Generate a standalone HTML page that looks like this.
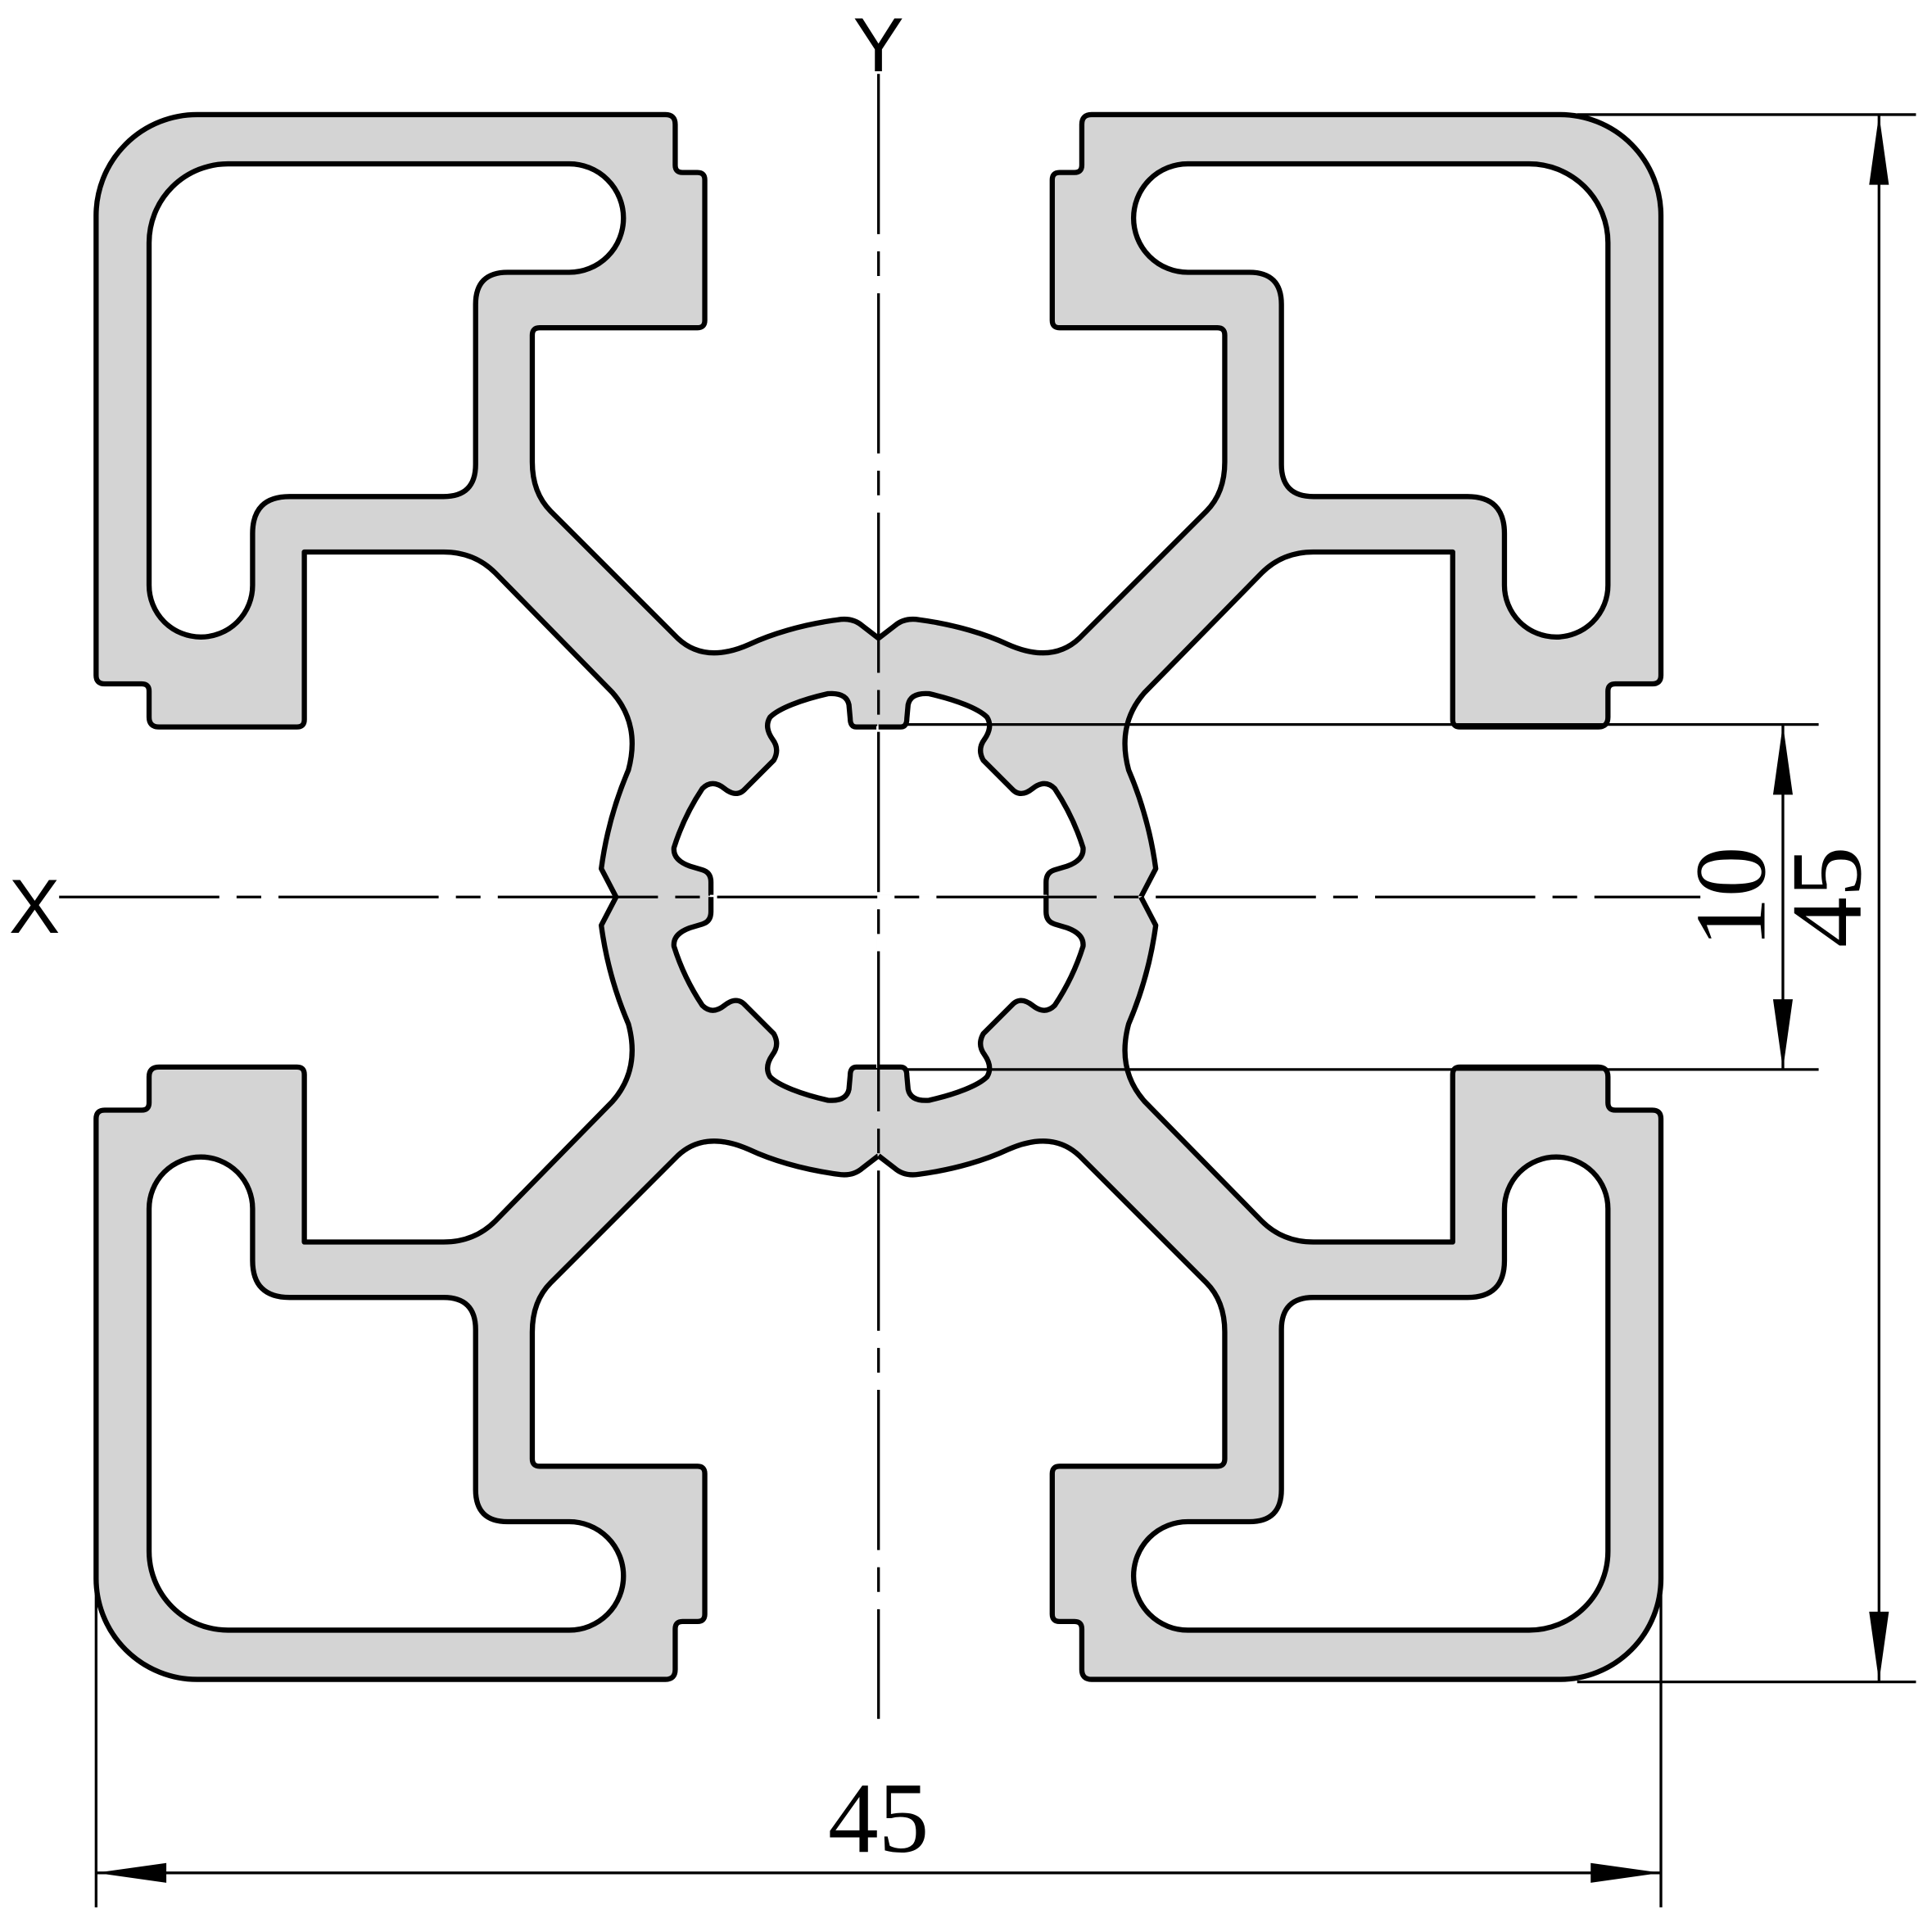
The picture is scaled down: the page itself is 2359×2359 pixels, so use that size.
<!DOCTYPE html>
<html><head><meta charset="utf-8"><style>
html,body{margin:0;padding:0;background:#fff;}
svg{display:block;}
</style></head><body>
<svg width="2359" height="2359" viewBox="0 0 1568 1568" xmlns="http://www.w3.org/2000/svg">
<defs>
<g id="q">
  <path d="M713,518 L700,508 Q692,501 680,503 C650,507 625,515 608,523 C590,531 568,535 550,518 L447,415 Q432,400 432,375 L432,272 Q432,266 438,266 L566,266 Q572,266 572,260 L572,146 Q572,140 566,140 L554,140 Q548,140 548,134 L548,101 Q548,93 540,93 L160,93 A82,82 0 0 0 78,175 L78,548 Q78,555 85,555 L115,555 Q121,555 121,561 L121,582 Q121,590 129,590 L241,590 Q247,590 247,584 L247,448 L360,448 Q385,448 402,465 L497,562 Q520,588 510,625 C495,660 490,690 488,705 L500,728 L714,729 Z" fill="#d4d4d4" stroke="#d4d4d4" stroke-width="1.5"/>
  <path d="M714,590 L695,590 Q690,590 690,583 L689,572 Q687,562 672,563 C650,568 632,575 625,582 Q620,590 627,600 Q633,608 628,617 L605,640 Q598,648 588,640 Q578,632 570,640 C560,655 552,672 547,688 Q546,698 560,703 L570,706 Q577,708 577,716 L577,729 L714,729 Z" fill="#fff" stroke="#fff" stroke-width="1.5"/>
  <path d="M185,133 L462,133 A44,44 0 0 1 462,221 L412,221 Q386,221 386,247 L386,377 Q386,403 360,403 L235,403 Q205,403 205,433 L205,475 A42,42 0 0 1 121,475 L121,197 A64,64 0 0 1 185,133 Z" fill="#fff" stroke="#000" stroke-width="4.2"/>
  <path d="M713,518 L700,508 Q692,501 680,503 C650,507 625,515 608,523 C590,531 568,535 550,518 L447,415 Q432,400 432,375 L432,272 Q432,266 438,266 L566,266 Q572,266 572,260 L572,146 Q572,140 566,140 L554,140 Q548,140 548,134 L548,101 Q548,93 540,93 L160,93 A82,82 0 0 0 78,175 L78,548 Q78,555 85,555 L115,555 Q121,555 121,561 L121,582 Q121,590 129,590 L241,590 Q247,590 247,584 L247,448 L360,448 Q385,448 402,465 L497,562 Q520,588 510,625 C495,660 490,690 488,705 L500,728" fill="none" stroke="#000" stroke-width="4.2" stroke-linejoin="round"/>
  <path d="M713,590 L695,590 Q690,590 690,583 L689,572 Q687,562 672,563 C650,568 632,575 625,582 Q620,590 627,600 Q633,608 628,617 L605,640 Q598,648 588,640 Q578,632 570,640 C560,655 552,672 547,688 Q546,698 560,703 L570,706 Q577,708 577,716 L577,728" fill="none" stroke="#000" stroke-width="4.2" stroke-linejoin="round"/>
</g>
</defs>
<use href="#q"/>
<use href="#q" transform="translate(1426,0) scale(-1,1)"/>
<use href="#q" transform="translate(0,1456) scale(1,-1)"/>
<use href="#q" transform="translate(1426,1456) scale(-1,-1)"/>

<line x1="713" y1="60" x2="713" y2="1395" stroke="#000" stroke-width="2.2" stroke-dasharray="130,14,20,14"/>
<line x1="48" y1="728" x2="1380" y2="728" stroke="#000" stroke-width="2.2" stroke-dasharray="130,14,20,14"/>
<text x="28" y="757" font-family="Liberation Sans, sans-serif" font-size="62" text-anchor="middle">X</text>
<text x="713" y="58" font-family="Liberation Sans, sans-serif" font-size="62" text-anchor="middle">Y</text>

<g stroke="#000" stroke-width="2.2">
<line x1="1280" y1="93" x2="1555" y2="93"/>
<line x1="1280" y1="1365" x2="1555" y2="1365"/>
<line x1="735" y1="588" x2="1476" y2="588"/>
<line x1="735" y1="868" x2="1476" y2="868"/>
<line x1="78" y1="1290" x2="78" y2="1548"/>
<line x1="1348" y1="1290" x2="1348" y2="1548"/>
<line x1="1525" y1="93" x2="1525" y2="1365"/>
<line x1="1447" y1="588" x2="1447" y2="868"/>
<line x1="78" y1="1520" x2="1348" y2="1520"/>
</g>
<g fill="#000">
<polygon points="1525,93 1517,150 1533,150"/>
<polygon points="1525,1365 1517,1308 1533,1308"/>
<polygon points="1447,588 1439,645 1455,645"/>
<polygon points="1447,868 1439,811 1455,811"/>
<polygon points="78,1520 135,1512 135,1528"/>
<polygon points="1348,1520 1291,1512 1291,1528"/>
</g>
<text x="713" y="1503" font-family="Liberation Serif, serif" font-size="82" text-anchor="middle">45</text>
<text transform="translate(1510,728) rotate(-90)" font-family="Liberation Serif, serif" font-size="82" text-anchor="middle">45</text>
<text transform="translate(1432,728) rotate(-90)" font-family="Liberation Serif, serif" font-size="82" text-anchor="middle">10</text>
</svg>
</body></html>
